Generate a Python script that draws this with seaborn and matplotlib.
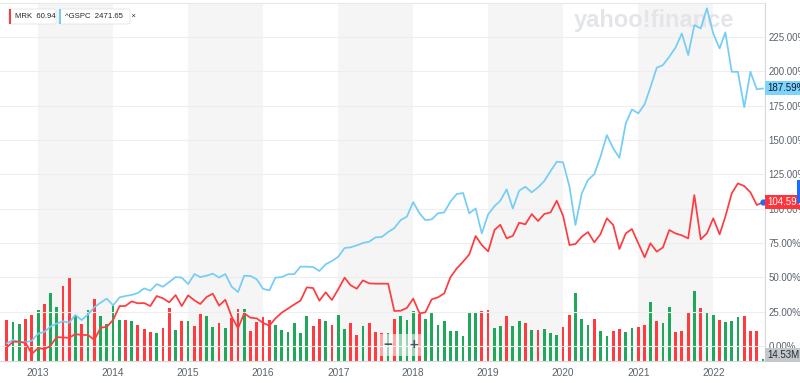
import pandas as pd
import seaborn as sns
import matplotlib.pyplot as plt
from matplotlib.patches import Rectangle, FancyBboxPatch

# monthly points, Aug 2012 .. Sep 2022
months = pd.date_range("2012-08-01", periods=122, freq="MS")

gspc_pct = [
    1.9, 4.4, 2.9, 2.7, 3.9, 9.0, 10.4, 14.1, 16.3, 18.0, 17.0, 22.6, 18.9, 23.1, 28.2, 31.6, 34.5, 29.6, 35.4, 36.4, 37.2,
    38.6, 42.0, 40.3, 45.1, 43.2, 46.6, 50.2, 49.8, 45.1, 52.4, 50.2, 51.2, 52.7, 49.8, 52.4, 43.2, 39.3, 51.2, 51.0, 48.6,
    41.6, 40.5, 49.8, 50.2, 52.2, 52.4, 57.8, 57.8, 57.5, 54.6, 59.5, 61.9, 65.0, 71.4, 71.8, 73.3, 75.0, 76.0, 79.1, 79.4, 83.0,
    85.9, 91.7, 94.2, 104.8, 96.6, 91.7, 92.2, 96.6, 97.3, 105.1, 110.7, 111.4, 96.6, 100.2, 82.0, 95.9, 101.9, 105.8, 114.1, 100.1, 113.1,
    116.0, 111.9, 115.5, 120.1, 127.4, 134.2, 133.7, 116.0, 88.1, 111.2, 120.9, 125.2, 137.9, 153.6, 143.9, 137.1, 162.1, 172.3, 169.4, 176.1,
    188.3, 202.7, 204.6, 210.7, 217.2, 227.6, 211.9, 233.7, 231.3, 245.9, 227.6, 216.7, 228.4, 199.7, 199.7, 173.8, 199.7, 186.9, 187.59,
]

mrk_pct = [
    -0.9, 3.1, 3.1, 2.2, -5.8, -1.5, -2.2, 0.0, 6.5, 6.2, 6.0, 8.7, 8.0, 8.0, 4.4, 13.3, 14.0, 19.0, 29.1, 29.1, 32.5,
    31.1, 31.3, 29.1, 36.4, 34.7, 31.8, 37.1, 29.1, 36.9, 33.2, 30.6, 35.7, 38.1, 29.4, 33.7, 21.4, 12.9, 23.8, 20.6, 20.1,
    16.8, 14.8, 20.1, 24.3, 27.2, 30.3, 33.0, 42.7, 42.2, 33.0, 39.1, 33.5, 41.3, 49.8, 44.4, 41.7, 47.8, 45.6, 45.4, 45.4, 45.4,
    25.5, 25.7, 27.7, 34.5, 23.8, 24.5, 34.0, 35.4, 38.3, 50.0, 56.5, 61.4, 66.7, 80.1, 73.5, 68.9, 84.5, 88.3, 78.4, 80.2, 89.8,
    88.6, 96.1, 91.0, 96.1, 97.3, 105.8, 94.7, 73.5, 74.3, 79.6, 83.0, 75.5, 81.5, 93.0, 88.1, 70.6, 82.0, 85.2, 74.8, 64.6,
    74.8, 68.7, 71.8, 84.5, 82.0, 80.6, 78.4, 109.9, 77.7, 82.0, 93.0, 81.3, 94.2, 111.2, 118.4, 116.5, 111.9, 102.7, 104.59,
]

# MRK monthly volume, millions
volume_m = [
    287, 273, 259, 294, 322, 357, 399, 476, 378, 525, 581, 315, 259, 357, 434, 315, 259, 385, 287, 287, 280,
    252, 224, 203, 196, 231, 371, 217, 280, 280, 245, 329, 315, 238, 266, 231, 301, 364, 364, 210, 273, 308,
    287, 252, 217, 203, 266, 196, 315, 245, 294, 280, 252, 322, 224, 266, 182, 245, 266, 203, 196, 196,
    294, 315, 287, 350, 329, 294, 336, 252, 280, 210, 210, 175, 343, 336, 350, 357, 231, 245, 315, 245, 280, 266,
    217, 217, 224, 196, 182, 238, 322, 476, 294, 252, 294, 210, 175, 210, 224, 203, 231, 238, 252, 413, 280, 266,
    378, 203, 210, 336, 490, 371, 336, 322, 287, 273, 280, 308, 315, 210, 210, 14.53,
]

bar_dirs = list(
    "RGGRRGRGGRRGRGRGGGGRG"
    "RRRGRRGRGRRGGRGRRGRRR"
    "RGGGGGGRRGRGGRRGRRRG"
    "RGGGRGGGGGGGGGRRGGRGGR"
    "GRGGGRRGGGRGGRRGGRRGRGGRRRGRGGRGGGRRRG"
)

years = list(range(2013, 2023))
shaded_years = [2013, 2015, 2017, 2019, 2021]
pct_ticks = list(range(0, 226, 25))

BLUE = "#74cdf6"
RED = "#ff3b3f"
GREEN = "#1fa85a"
GREY_TXT = "#5b636a"

sns.set_style("white")
plt.rcParams["font.family"] = ["Liberation Sans", "DejaVu Sans"]

W, H = 800, 383
fig = plt.figure(figsize=(8, 3.83), dpi=100)
ax_vol = fig.add_axes([0, 1 - 361 / H, 765 / W, 358 / H])
ax = ax_vol.twinx()

# alternating year shading
for yr in shaded_years:
    ax_vol.axvspan(pd.Timestamp(f"{yr}-01-01"), pd.Timestamp(f"{yr + 1}-01-01"),
                   color="#f5f5f5", zorder=0, lw=0)

# watermark
ax_vol.text(0.855, 0.952, "yahoo!finance", transform=ax_vol.transAxes, ha="center", va="center",
            fontsize=17, fontweight="bold", color="#e3e5e8", zorder=0.5)

# volume bars
bar_colors = [GREEN if d == "G" else RED for d in bar_dirs]
ax_vol.bar(months, volume_m, width=13, color=bar_colors, zorder=2, lw=0)
ax_vol.set_ylim(0, 358 * 7)
ax_vol.set_yticks([])
ax_vol.set_xlim(pd.Timestamp("2012-06-29"), pd.Timestamp("2022-09-10"))

# price lines
sns.lineplot(x=months, y=gspc_pct, ax=ax, color=BLUE, linewidth=1.25)
sns.lineplot(x=months, y=mrk_pct, ax=ax, color=RED, linewidth=1.25)
ax.plot(months[-1], mrk_pct[-1], "o", color="#1a6bff", ms=3.5, zorder=5)
ax.set_ylim(-10.92, 249.8)
ax.set_yticks(pct_ticks)
ax.set_yticklabels([f"{t:.2f}%" for t in pct_ticks])
ax.set_ylabel("")
ax.set_xlabel("")
ax.grid(axis="y", color="#eeeeee", lw=0.8)
ax.tick_params(axis="y", length=0, pad=2.5, labelsize=7, labelcolor=GREY_TXT)

ax_vol.set_xticks([pd.Timestamp(f"{y}-01-01") for y in years])
ax_vol.set_xticklabels([str(y) for y in years])
ax_vol.tick_params(axis="x", length=3, color="#dcdcdc", pad=2, labelsize=7.3, labelcolor=GREY_TXT)
ax_vol.set_xlabel("")

for a in (ax, ax_vol):
    for s in a.spines.values():
        s.set_visible(False)
ax_vol.spines["bottom"].set_visible(True)
ax_vol.spines["bottom"].set_color("#d8d8d8")
ax_vol.spines["top"].set_visible(True)
ax_vol.spines["top"].set_color("#e8e8e8")
ax.spines["right"].set_visible(True)
ax.spines["right"].set_color("#d8d8d8")

# last-value tags on the right axis
ytf = ax.get_yaxis_transform()
ax.text(1.003, gspc_pct[-1], f"{gspc_pct[-1]:.2f}%", transform=ytf, ha="left", va="center",
        fontsize=7, color="#0f1b2a", clip_on=False, zorder=6,
        bbox=dict(boxstyle="square,pad=0.2", fc="#7dd3fb", ec="none"))
ax.text(1.003, mrk_pct[-1], f"{mrk_pct[-1]:.2f}%", transform=ytf, ha="left", va="center",
        fontsize=7, color="white", clip_on=False, zorder=6,
        bbox=dict(boxstyle="square,pad=0.2", fc="#ff333a", ec="none"))
fig.text(767 / W, 1 - 355 / H, f"{volume_m[-1]:.2f}M", ha="left", va="center", fontsize=7,
         color="#232a31", bbox=dict(boxstyle="square,pad=0.2", fc="#c4c8cd", ec="none"))
fig.patches.append(Rectangle((797 / W, 1 - 203 / H), 3 / W, 23 / H, transform=fig.transFigure,
                             fc="#1a6bff", ec="none"))

# legend chips
chips = [("MRK  60.94", RED, 9, 56), ("^GSPC  2471.65    \u00d7", BLUE, 59, 130)]
for label, col, x0, x1 in chips:
    fig.patches.append(FancyBboxPatch((x0 / W, 1 - 24 / H), (x1 - x0) / W, 15 / H,
                                      boxstyle="round,pad=0,rounding_size=0.003",
                                      transform=fig.transFigure, fc="white", ec="#e4e4e4", lw=0.6))
    fig.patches.append(Rectangle((x0 / W, 1 - 24 / H), 2.2 / W, 15 / H,
                                 transform=fig.transFigure, fc=col, ec="none"))
    fig.text((x0 + 6) / W, 1 - 16.5 / H, label, ha="left", va="center", fontsize=5.6, color="#232a31")

# zoom buttons
fig.text(401 / W, 1 - 345 / H, "\u2212    +", ha="center", va="center", fontsize=11,
         fontweight="bold", color="#4d555c",
         bbox=dict(boxstyle="square,pad=0.25", fc="white", ec="none", alpha=0.55))

fig.savefig("out.png", dpi=100)
